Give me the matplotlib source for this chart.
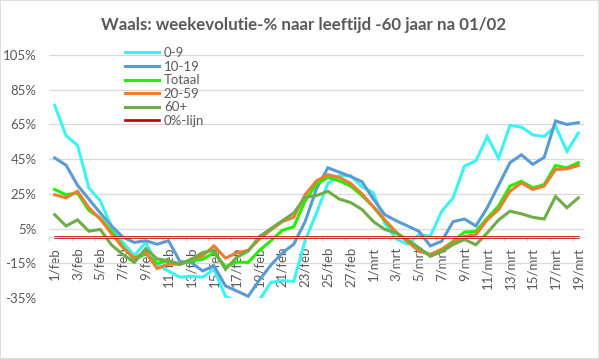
import matplotlib
matplotlib.use('Agg')
import matplotlib.pyplot as plt
from matplotlib.patches import Rectangle
import numpy as np

## Data (weekevolutie in %, Wallonie)

datums = [f'{d}/feb' for d in range(1, 29)] + [f'{d}/mrt' for d in range(1, 20)]

leeftijd_0_9 = [76, 58.5, 53, 28.5, 21, 6, -3, -10.5, -3, -15.5, -19.5, -23, -22.5, -23, -18.5, -34,
                -37, -37, -36, -26, -25, -25.5, -2, 14, 31, 35.5, 35.5, 29, 25.6, 8, -1, -4,
                1.5, 0.6, 15, 22.7, 41, 44, 58, 45.5, 64.5, 63.5, 59, 58, 64, 49.5, 60]
leeftijd_10_19 = [45.7, 41.5, 30, 22, 14, 6.5, 0, -3, -2, -4, -2, -14, -14.6, -19.4, -16.5, -28,
                  -31, -34, -24.5, -16, -9, -4, 9, 28, 40, 37.5, 35, 32, 22, 13, 9.5, 6.5,
                  3.4, -5, -2.3, 9, 10.5, 6.5, 17, 30, 43, 47.5, 42, 46, 67, 65, 66]
totaal = [27.5, 24.5, 25.5, 15.5, 11, 3.5, -5.5, -13, -9.5, -15, -13.6, -15.6, -13.6, -12.7, -9, -17,
          -14.3, -14.5, -7.5, -2, 4, 6, 21, 30.5, 34.5, 32.5, 29.5, 24, 17.5, 9.5, 2.5, -2,
          -7, -10, -7, -2.3, 3, 3.4, 11, 18, 29.5, 32.3, 28.5, 30.3, 41.3, 40, 43]
leeftijd_20_59 = [24.5, 22.7, 26.5, 17, 10.5, 2, -6, -12, -8.5, -18, -15.5, -15.5, -12.7, -10.7, -5, -12,
                  -9, -7.5, -1, 4.3, 9, 11.5, 24.5, 32.5, 36, 34.5, 31, 25, 17.5, 10, 3, -2.5,
                  -8, -10, -7, -3, 0.5, 1.5, 10, 16, 26.5, 31.3, 27.5, 29.5, 39, 39.4, 41.3]
leeftijd_60_plus = [13, 6.5, 10, 3.5, 4.5, -4.5, -10, -14.5, -6.5, -12.5, -13.5, -15.5, -12.7, -8.8, -7.5, -18.5,
                    -11.5, -8, 0.5, 5, 9.5, 14, 23, 24, 26.5, 22, 20, 16, 9, 4.5, 2.5, -1.5,
                    -6, -11, -8.3, -4.2, -1.3, -4.3, 2.5, 10, 15, 13.5, 11.5, 10.5, 23.5, 17, 22.7]
nul_lijn = [0] * len(datums)

reeksen = [
    ('0-9', leeftijd_0_9, '#3DF2F2'),
    ('10-19', leeftijd_10_19, '#5B9BD5'),
    ('Totaal', totaal, '#22F000'),
    ('20-59', leeftijd_20_59, '#ED7D31'),
    ('60+', leeftijd_60_plus, '#70AD47'),
]

grijs = '#595959'
plt.rcParams['font.family'] = ['Lato', 'DejaVu Sans']

## Plot

fig = plt.figure(figsize=(5.99, 3.59), dpi=100)
ax = fig.add_axes([49 / 599, 1 - 298 / 359, 535 / 599, 243 / 359])

x = np.arange(len(datums))
for naam, waarden, kleur in reeksen:
    ax.plot(x, waarden, color=kleur, lw=2.2, label=naam, solid_joinstyle='miter')
ax.plot(x, nul_lijn, color='#C00000', lw=1.9, label='0%-lijn')

ax.set_xlim(-0.5, len(datums) - 0.5)
ax.set_ylim(-35, 105)
ax.set_yticks(np.arange(-35, 106, 20))
ax.set_yticklabels([f'{v}%' for v in range(-35, 106, 20)])
ax.grid(axis='y', color='#D9D9D9', lw=0.9)
ax.set_axisbelow(True)

for s in ['top', 'right', 'left']:
    ax.spines[s].set_visible(False)
ax.spines['bottom'].set_position(('data', 0))
ax.spines['bottom'].set_color('#D9D9D9')

ax.set_xticks(x[::2])
ax.set_xticklabels(datums[::2], rotation=90, va='top', ha='center')
ax.set_xticks(np.arange(-0.5, len(datums), 2), minor=True)
ax.tick_params(axis='x', which='major', length=0, pad=7, labelsize=9.5, labelcolor=grijs)
ax.tick_params(axis='x', which='minor', length=3, color='#D9D9D9', width=0.9)
ax.tick_params(axis='y', length=0, pad=9, labelsize=9.5, labelcolor=grijs)

fig.legend(loc='upper left', bbox_to_anchor=(125 / 599, 1 - 47 / 359), bbox_transform=fig.transFigure,
           frameon=False, fontsize=9.5, labelcolor=grijs, handlelength=2.6, handletextpad=0.35,
           labelspacing=0.12, borderpad=0, borderaxespad=0)

fig.text(0.506, 1 - 25 / 359, 'Waals: weekevolutie-% naar leeftijd -60 jaar na 01/02',
         ha='center', va='center', fontsize=12.2, fontweight='bold', color=grijs)

fig.patches.append(Rectangle((0, 0), 1, 1, transform=fig.transFigure, fill=False,
                             edgecolor='#D9D9D9', lw=1.2))

fig.savefig('out.png', dpi=100)
